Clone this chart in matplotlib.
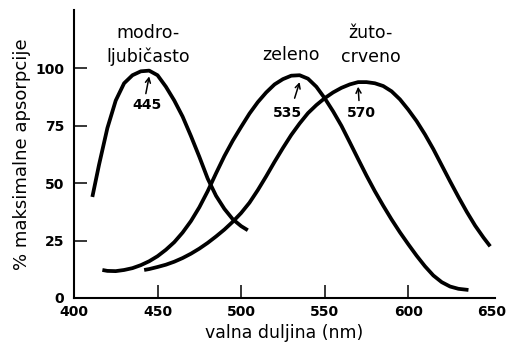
import matplotlib
matplotlib.use('Agg')
import matplotlib.pyplot as plt

plt.rcParams['font.family'] = ['DejaVu Sans']

# absorption curves of the three cone types (% of maximum)
blue_wl = [411, 415, 420, 425, 430, 435, 440, 445, 450, 455, 460, 465, 470,
           475, 480, 485, 490, 495, 500, 504]
blue_abs = [44, 58, 74, 86, 93.5, 97, 98.7, 99, 97, 92, 86, 79, 70.5,
            61.5, 52, 44.5, 38.8, 34.3, 31.3, 29.5]

green_wl = [417, 420, 425, 430, 435, 440, 445, 450, 455, 460, 465, 470, 475,
            480, 485, 490, 495, 500, 505, 510, 515, 520, 525, 530, 535, 540,
            545, 550, 555, 560, 565, 570, 575, 580, 585, 590, 595, 600, 605,
            610, 615, 620, 625, 630, 636]
green_abs = [12.2, 11.8, 11.7, 12.2, 13, 14.3, 16, 18.2, 21, 24.3, 28.5, 33.5, 39.5,
             46.5, 54.3, 61.8, 68.5, 74.5, 80.3, 85.3, 89.5, 93, 95.3, 96.8, 97, 95.5,
             92, 87, 81.3, 75, 67.8, 60.5, 53.3, 46.5, 40.2, 34.2, 28.6, 23.4, 18.4,
             13.8, 9.8, 6.9, 5, 4, 3.5]

red_wl = [442, 445, 450, 455, 460, 465, 470, 475, 480, 485, 490, 495, 500,
          505, 510, 515, 520, 525, 530, 535, 540, 545, 550, 555, 560, 565,
          570, 575, 580, 585, 590, 595, 600, 605, 610, 615, 620, 625, 630,
          635, 640, 645, 649]
red_abs = [12.2, 12.6, 13.5, 14.5, 15.8, 17.4, 19.3, 21.5, 24, 26.8, 29.8, 33.2, 37,
           41.5, 47, 53, 59.3, 65.3, 71, 76, 80.5, 84, 87, 89.5, 91.5, 93,
           94, 94, 93.5, 92.3, 90, 86.5, 82, 77, 71.2, 64.8, 57.8, 50.8, 44,
           37.5, 31.5, 26.3, 22.5]

peaks = [445, 535, 570]
x_ticks = [400, 450, 500, 550, 600, 650]
y_ticks = [0, 25, 50, 75, 100]

fig = plt.figure(figsize=(5.1, 3.51), dpi=100)
ax = fig.add_axes([0.145, 0.151, 0.826, 0.8205])

for wl, ab in [(blue_wl, blue_abs), (green_wl, green_abs), (red_wl, red_abs)]:
    ax.plot(wl, ab, color='black', lw=2.7, solid_capstyle='butt',
            solid_joinstyle='round')

ax.set_xlim(400, 652)
ax.set_ylim(0, 125.4)
for s in ['top', 'right']:
    ax.spines[s].set_visible(False)
for s in ['left', 'bottom']:
    ax.spines[s].set_linewidth(1.5)

ax.set_xticks(x_ticks)
ax.set_yticks(y_ticks)
ax.tick_params(axis='both', direction='in', length=9.5, width=1.1,
               labelsize=10)
ax.tick_params(axis='x', pad=5)
ax.tick_params(axis='y', pad=7)
for lab in ax.get_xticklabels() + ax.get_yticklabels():
    lab.set_fontweight('bold')
ax.xaxis.get_major_ticks()[-1].tick1line.set_visible(False)

ax.set_xlabel('valna duljina (nm)', fontsize=12.5, labelpad=4)
ax.set_ylabel('% maksimalne apsorpcije', fontsize=13, labelpad=3)

# curve names
ax.text(444.5, 115.4, 'modro-', ha='center', va='center', fontsize=12.5)
ax.text(444.5, 105, 'ljubičasto', ha='center', va='center', fontsize=12.5)
ax.text(530, 105.8, 'zeleno', ha='center', va='center', fontsize=12.5)
ax.text(577.5, 115.4, 'žuto-', ha='center', va='center', fontsize=12.5)
ax.text(577.5, 105, 'crveno', ha='center', va='center', fontsize=12.5)

# peak wavelengths with small arrows
arrow = dict(arrowstyle='->,head_length=0.35,head_width=0.18', lw=1.1,
             color='black', shrinkA=0, shrinkB=0)
tips = [96.5, 94, 92]
tails = [(443, 89), (532, 87), (570.5, 86)]
texts = [(443.5, 84), (528, 80.4), (572, 80.4)]
for p, tip, tail, tp in zip(peaks, tips, tails, texts):
    ax.annotate('', xy=(p, tip), xytext=tail, arrowprops=arrow)
    ax.text(tp[0], tp[1], str(p), ha='center', va='center', fontsize=10,
            fontweight='bold')

fig.savefig('out.png', dpi=100, facecolor='white')
